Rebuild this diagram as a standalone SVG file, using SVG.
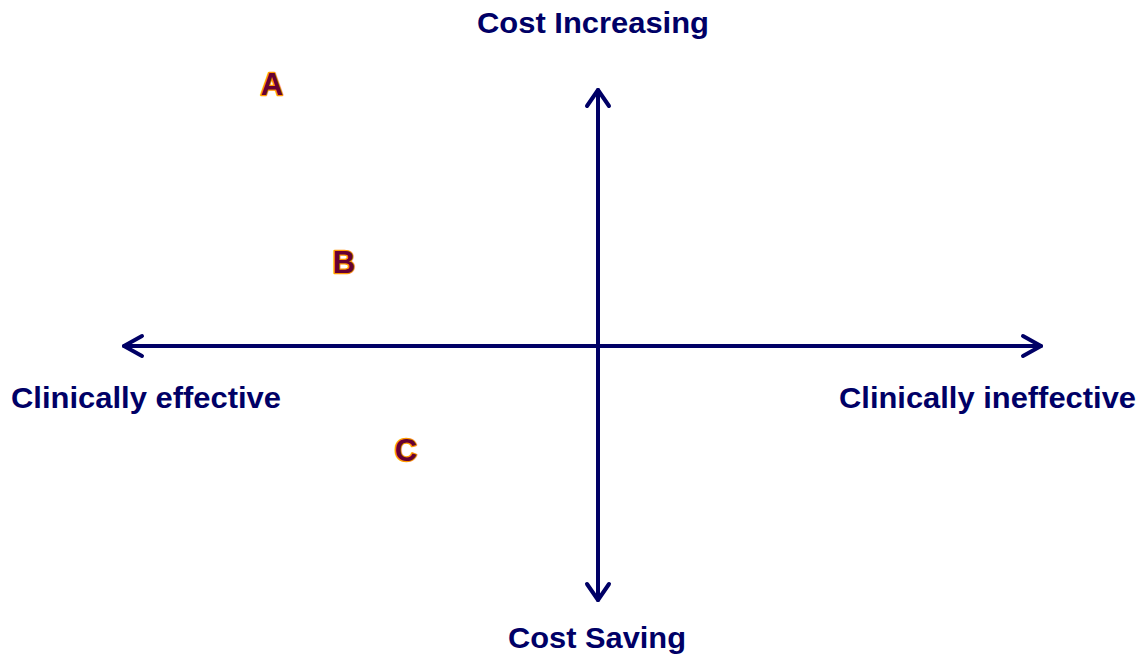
<svg xmlns="http://www.w3.org/2000/svg" width="1141" height="654" viewBox="0 0 1141 654">
<style>
.ax{stroke:#000066;stroke-width:4;fill:none;stroke-linecap:round;stroke-linejoin:round}
.lbl{font-family:"Liberation Sans",Arial,sans-serif;font-weight:bold;font-size:30px;fill:#000066;text-anchor:middle}
.pt{font-family:"Liberation Sans",Arial,sans-serif;font-weight:bold;font-size:31px;fill:#660033;stroke:#FF9900;stroke-width:2.5;paint-order:stroke;stroke-linejoin:round;text-anchor:middle}
</style>
<rect width="1141" height="654" fill="#ffffff"/>
<g id="connectors">
<path class="ax" d="M598 90 V600"/>
<path class="ax" d="M587 106 L598 90 L609 106"/>
<path class="ax" d="M587 584 L598 600 L609 584"/>
<path class="ax" d="M124 346 H1041"/>
<path class="ax" d="M142 336 L124 346 L142 356"/>
<path class="ax" d="M1023 336 L1041 346 L1023 356"/>
</g>
<g id="cost-increasing"><text class="lbl" x="593" y="33" textLength="232" lengthAdjust="spacingAndGlyphs">Cost Increasing</text></g>
<g id="cost-saving"><text class="lbl" x="597" y="648" textLength="178" lengthAdjust="spacingAndGlyphs">Cost Saving</text></g>
<g id="clinically-effective"><text class="lbl" x="146" y="408" textLength="270" lengthAdjust="spacingAndGlyphs">Clinically effective</text></g>
<g id="clinically-ineffective"><text class="lbl" x="987.5" y="408" textLength="297" lengthAdjust="spacingAndGlyphs">Clinically ineffective</text></g>
<g id="point-a"><text class="pt" x="272" y="95">A</text></g>
<g id="point-b"><text class="pt" x="344" y="273">B</text></g>
<g id="point-c"><text class="pt" x="406" y="461">C</text></g>
</svg>
